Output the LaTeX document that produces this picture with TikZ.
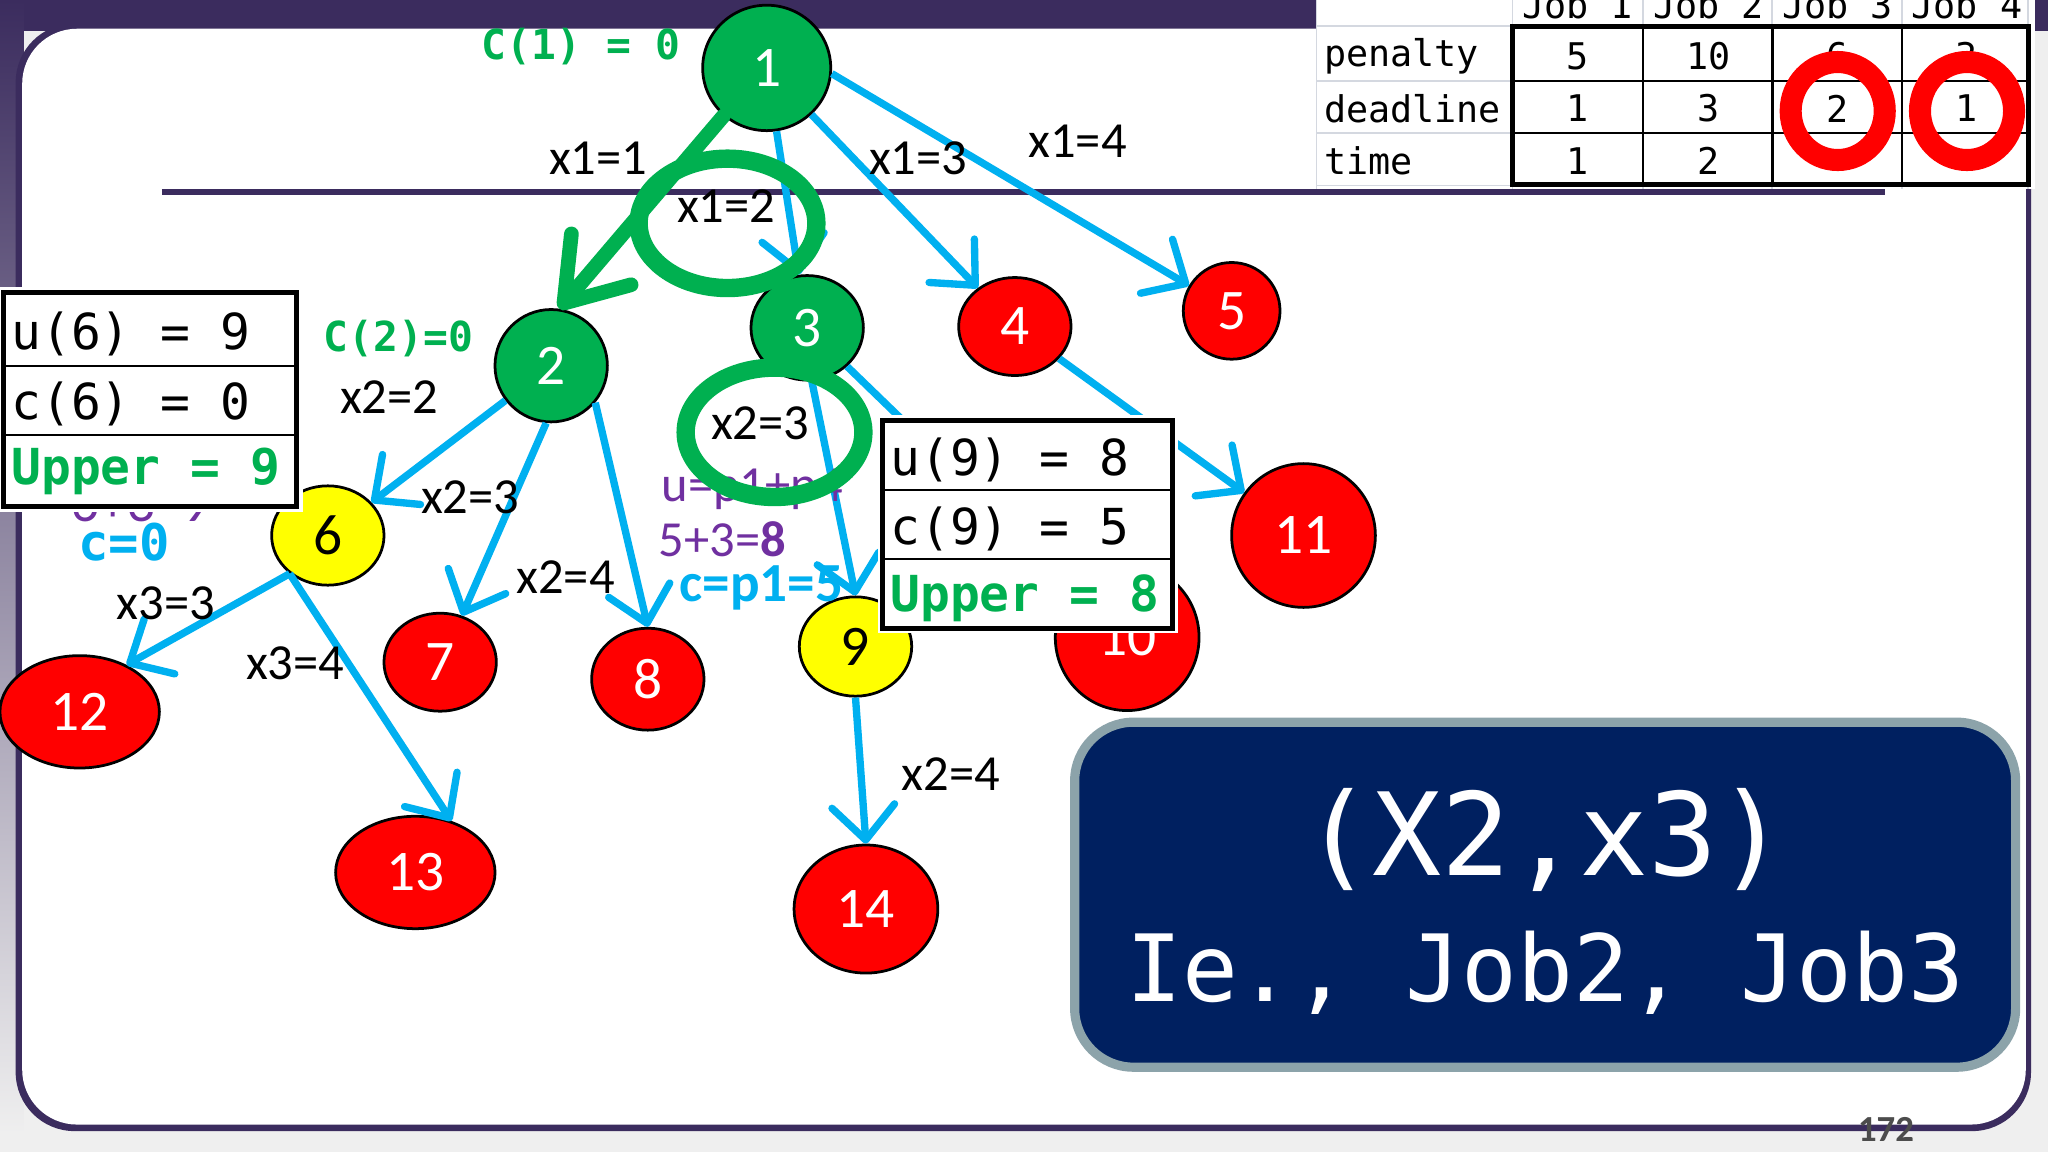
\documentclass[tikz,border=0pt]{standalone}
\usepackage{fontspec}
\setmainfont{Carlito}
\newfontfamily\codefont{DejaVu Sans Mono}
\usepackage{tikz}
\usetikzlibrary{positioning}
\usetikzlibrary{arrows.meta}
\usetikzlibrary{shapes.geometric}

\definecolor{slidepurple}{HTML}{3B2C5E}
\definecolor{slidegray}{HTML}{EFEFEF}
\definecolor{okgreen}{HTML}{00B050}
\definecolor{edgeblue}{HTML}{00B0F0}
\definecolor{killred}{HTML}{FF0000}
\definecolor{liveyellow}{HTML}{FFFF00}
\definecolor{notepurple}{HTML}{7030A0}
\definecolor{navybox}{HTML}{002060}
\definecolor{navyedge}{HTML}{8CA3AA}
\definecolor{gridgray}{HTML}{D4D8E0}

\begin{document}
\begin{tikzpicture}[x=0.01cm, y=-0.01cm,
    state/.style={ellipse, draw=black, line width=0.6pt, inner sep=0pt, font=\fontsize{12.5}{14}\selectfont},
    live/.style={state, fill=okgreen, text=white},
    dead/.style={state, fill=killred, text=white},
    bound/.style={state, fill=liveyellow, text=black},
    branch/.style={draw=edgeblue, line width=1.6pt, -{Straight Barb[length=2.6mm, width=4.8mm, round]}},
    penarrow/.style={draw=okgreen, line width=3.2pt, line cap=round, -{Straight Barb[length=4.4mm, width=6mm, round]}},
    penring/.style={ellipse, draw=okgreen, line width=4pt, inner sep=0pt, minimum width=1.36cm, minimum height=0.99cm},
    inkring/.style={ellipse, draw=killred, line width=4.8pt, inner sep=0pt, minimum width=0.72cm, minimum height=0.75cm},
    choice/.style={font=\fontsize{11}{13}\selectfont, inner sep=0pt},
    cost/.style={font=\codefont\bfseries\fontsize{9}{11}\selectfont, text=okgreen, inner sep=0pt},
    cell/.style={font=\codefont\fontsize{8}{10}\selectfont, inner sep=0pt},
    boxrow/.style={font=\codefont\fontsize{10.8}{13}\selectfont, anchor=west, inner sep=0pt},
    note/.style={font=\fontsize{11}{13}\selectfont, text=notepurple, inner sep=0pt},
  ]
  \useasboundingbox (0,0) rectangle (1568,882);

  % slide frame
  \fill[slidegray] (0,0) rectangle (1568,882);
  \fill[slidepurple] (0,0) rectangle (1568,24);
  \shade[top color=slidepurple, middle color=slidepurple!75!slidegray, bottom color=slidegray] (0,0) rectangle (18,868);
  \fill[slidepurple, rounded corners=0.45cm] (12,18) rectangle (1555,866);
  \fill[white, rounded corners=0.42cm] (17,22) rectangle (1551,861);
  \draw[slidepurple, line width=1.1pt] (124,147) -- (1443,147);

  % job table
  \fill[white] (1008,0) rectangle (1558,145);
  \foreach \gx in {1008,1158,1258,1357,1456,1553}
    \draw[gridgray, line width=0.4pt] (\gx,0) -- (\gx,145);
  \foreach \gy in {20,62,102,142}
    \draw[gridgray, line width=0.4pt] (1008,\gy) -- (1553,\gy);
  \draw[line width=0.5pt] (1258,20) -- (1258,141) (1357,20) -- (1357,141) (1456,20) -- (1456,141);
  \draw[line width=0.5pt] (1158,62) -- (1553,62) (1158,102) -- (1553,102);
  \draw[line width=1.1pt] (1158,20) rectangle (1553,141);
  \foreach \job/\cx in {1/1208,2/1308,3/1407,4/1506}
    \node[cell] (job\job) at (\cx,4) {Job \job};
  \node[cell, anchor=west] (penalty) at (1013,43) {penalty};
  \node[cell, anchor=west] (deadline) at (1013,83) {deadline};
  \node[cell, anchor=west] (time) at (1013,123) {time};
  \foreach \job/\cx/\p/\d in {1/1208/5/1, 2/1308/10/3, 3/1407/6/2, 4/1506/3/1} {
    \node[cell] (pen\job) at (\cx,43) {\p};
    \node[cell] (dl\job) at (\cx,83) {\d};
  }
  \node[cell] (tm1) at (1208,123) {1};
  \node[cell] (tm2) at (1308,123) {2};
  \node[inkring] (ring3) at (1407,85) {};
  \node[inkring] (ring4) at (1506,85) {};

  % state space tree
  \node[live, minimum width=0.98cm, minimum height=0.96cm] (n1) at (587,52) {1};
  \node[live, minimum width=0.86cm, minimum height=0.86cm] (n2) at (422,280) {2};
  \node[live, minimum width=0.86cm, minimum height=0.80cm] (n3) at (618,251) {3};
  \node[dead, minimum width=0.86cm, minimum height=0.75cm] (n4) at (777,250) {4};
  \node[dead, minimum width=0.74cm, minimum height=0.74cm] (n5) at (943,238) {5};
  \node[bound, minimum width=0.86cm, minimum height=0.76cm] (n6) at (251,410) {6};
  \node[dead, minimum width=0.86cm, minimum height=0.75cm] (n7) at (337,507) {7};
  \node[dead, minimum width=0.86cm, minimum height=0.78cm] (n8) at (496,520) {8};
  \node[bound, minimum width=0.86cm, minimum height=0.76cm] (n9) at (655,495) {9};
  \node[dead, minimum width=1.10cm, minimum height=1.12cm] (n10) at (863,488) {10};
  \node[dead, minimum width=1.10cm, minimum height=1.10cm] (n11) at (998,410) {11};
  \node[dead, minimum width=1.22cm, minimum height=0.86cm] (n12) at (61,545) {12};
  \node[dead, minimum width=1.22cm, minimum height=0.86cm] (n13) at (318,668) {13};
  \node[dead, minimum width=1.10cm, minimum height=0.98cm] (n14) at (663,696) {14};

  \draw[branch] (n1) -- (n3);
  \draw[branch] (n1) -- (n4);
  \draw[branch] (n1.-5) -- (n5);
  \draw[branch] (n2) -- (n6);
  \draw[branch] (n2.-95) -- (n7.65);
  \draw[branch] (n2.-40) -- (n8.north);
  \draw[branch] (n3.-85) -- (n9.north);
  \draw[branch] (n3) -- (n10);
  \draw[branch] (n4) -- (n11);
  \draw[branch] (n6.-135) -- (n12.45);
  \draw[branch] (n6.-135) -- (n13.55);
  \draw[branch] (n9.south) -- (n14.north);
  \draw[penarrow] (n1.-132) -- (n2.82);

  \node[choice] (e12) at (458,121) {x1=1};
  \node[choice] (e13) at (556,158) {x1=2};
  \node[choice] (e14) at (703,121) {x1=3};
  \node[choice] (e15) at (825,108) {x1=4};
  \node[choice] (e26) at (298,304) {x2=2};
  \node[choice] (e27) at (360,381) {x2=3};
  \node[choice] (e28) at (433,442) {x2=4};
  \node[choice] (e39) at (582,324) {x2=3};
  \node[choice] (e612) at (127,462) {x3=3};
  \node[choice] (e613) at (226,508) {x3=4};
  \node[choice] (e914) at (728,593) {x2=4};

  \node[cost] (c1) at (445,36) {C(1) = 0};
  \node[cost] (c2) at (305,259) {C(2)=0};
  \node[font=\codefont\bfseries\fontsize{11}{13}\selectfont, text=edgeblue, inner sep=0pt] (c6) at (95,415) {c=0};
  \node[note, font=\fontsize{12}{14}\selectfont] (u6) at (108,385) {6+3=9};
  \node[note] (u9) at (576,375) {u=p1+p4};
  \node[note] (u9sum) at (553,413) {5+3=\textbf{8}};
  \node[font=\bfseries\fontsize{12}{14}\selectfont, text=edgeblue, inner sep=0pt] (c9) at (583,450) {c=p1=5};

  \node[penring] (ring1) at (557,171) {};
  \node[penring] (ring2) at (593,331) {};

  % bound boxes
  \fill[white] (0,220) rectangle (232,392);
  \draw[line width=1.1pt] (3,224) rectangle (227,388);
  \draw[line width=0.5pt] (3,280) -- (227,280) (3,333) -- (227,333);
  \node[boxrow] (up6) at (8,256) {u(6) = 9};
  \node[boxrow] (lo6) at (8,309) {c(6) = 0};
  \node[boxrow, text=okgreen, font=\codefont\bfseries\fontsize{10.8}{13}\selectfont] (ub6) at (8,361) {Upper = 9};

  \fill[white] (672,318) rectangle (902,485);
  \draw[line width=1.1pt] (676,322) rectangle (898,481);
  \draw[line width=0.5pt] (676,375) -- (898,375) (676,428) -- (898,428);
  \node[boxrow] (up9) at (681,352) {u(9) = 8};
  \node[boxrow] (lo9) at (681,405) {c(9) = 5};
  \node[boxrow, text=okgreen, font=\codefont\bfseries\fontsize{10.8}{13}\selectfont] (ub9) at (681,458) {Upper = 8};

  % answer
  \node[draw=navyedge, fill=navybox, line width=2pt, rounded corners=0.45cm,
        minimum width=7.2cm, minimum height=2.64cm, inner sep=0pt] (answer) at (1183,685) {};
  \node[font=\codefont\fontsize{25}{29}\selectfont, text=white, inner sep=0pt] (pair) at (1183,643) {(X2,x3)};
  \node[font=\codefont\fontsize{20.2}{24}\selectfont, text=white, inner sep=0pt] (jobs) at (1183,745) {Ie., Job2, Job3};

  \node[font=\bfseries\fontsize{8}{9}\selectfont, text=black!70, inner sep=0pt] (pageno) at (1444,865) {172};
\end{tikzpicture}
\end{document}
